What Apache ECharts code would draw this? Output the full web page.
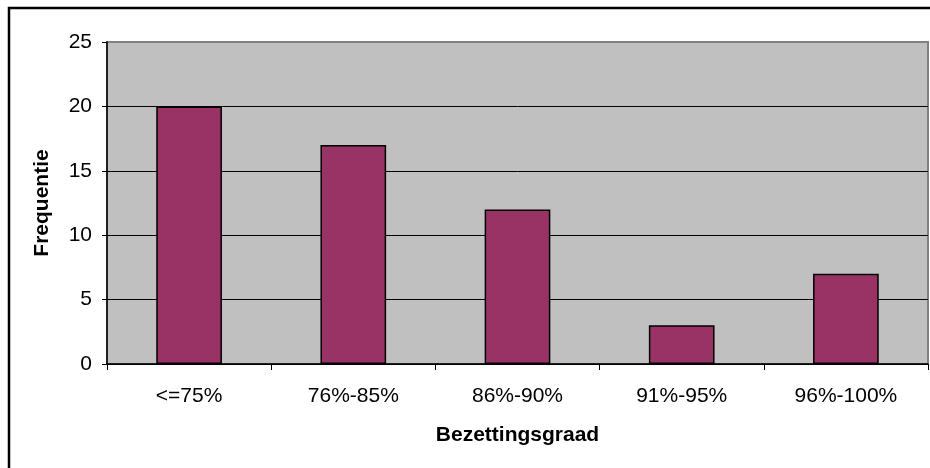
<!DOCTYPE html>
<html><head><meta charset="utf-8">
<script src="https://cdn.jsdelivr.net/npm/echarts@6/dist/echarts.min.js"></script>
<style>html,body{margin:0;padding:0;background:#fff}#c{width:930px;height:468px}</style>
</head><body><div id="c"></div>
<script>
var categories = ['<=75%', '76%-85%', '86%-90%', '91%-95%', '96%-100%'];
var frequencies = [20, 17, 12, 3, 7];
var yTicks = [0, 5, 10, 15, 20, 25];

var chart = echarts.init(document.getElementById('c'));
var font = 'Liberation Sans, Arial, sans-serif';
chart.setOption({
  animation: false,
  backgroundColor: '#fff',
  graphic: [{
    type: 'rect', z: 100, silent: true,
    shape: { x: 9, y: 8, width: 2000, height: 2000 },
    style: { fill: 'none', stroke: '#000', lineWidth: 2.5 }
  }],
  grid: {
    left: 107, right: 2, top: 42, bottom: 104,
    show: true, backgroundColor: '#C0C0C0', borderColor: '#808080', borderWidth: 2
  },
  xAxis: {
    type: 'category', data: categories,
    name: 'Bezettingsgraad', nameLocation: 'middle', nameGap: 61,
    nameTextStyle: { fontFamily: font, fontSize: 21, fontWeight: 'bold', color: '#000' },
    axisLine: { lineStyle: { color: '#000', width: 1.5 } },
    axisTick: { show: true, length: 6, lineStyle: { color: '#000' } },
    axisLabel: { fontFamily: font, fontSize: 21, color: '#000', margin: 22 }
  },
  yAxis: {
    type: 'value', min: yTicks[0], max: yTicks[yTicks.length - 1], interval: 5,
    name: 'Frequentie', nameLocation: 'middle', nameGap: 54,
    nameTextStyle: { fontFamily: font, fontSize: 21, fontWeight: 'bold', color: '#000' },
    axisLine: { show: true, lineStyle: { color: '#000', width: 1.5 } },
    axisTick: { show: true, length: 5, lineStyle: { color: '#000' } },
    axisLabel: { fontFamily: font, fontSize: 21, color: '#000', margin: 15 },
    splitLine: { show: true, showMaxLine: false, lineStyle: { color: '#000', width: 1 } }
  },
  series: [{
    type: 'bar', data: frequencies, barWidth: '40%',
    itemStyle: { color: '#993366', borderColor: '#000', borderWidth: 1.5 }
  }]
});
</script></body></html>
